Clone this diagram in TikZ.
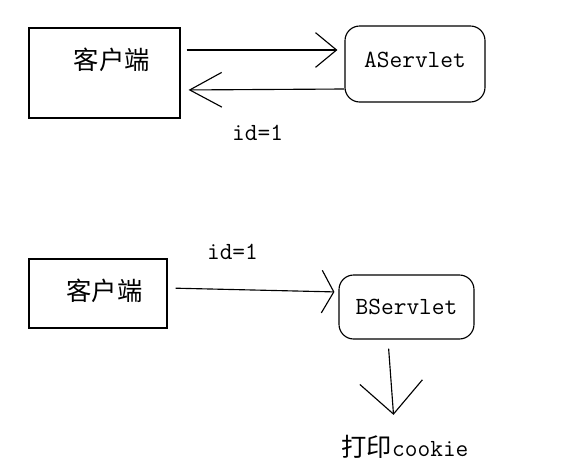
\documentclass[tikz,border=0pt]{standalone}
\usepackage{fontspec}
\newfontfamily\cjk{Noto Sans CJK SC}
\usetikzlibrary{arrows.meta}

\begin{document}
\begin{tikzpicture}[x=0.75pt,y=-0.75pt,line width=0.85pt,
      client node/.style={rectangle,draw,inner sep=0pt},
      servlet node/.style={rectangle,draw,rounded corners=11pt,inner sep=0pt,
        font=\ttfamily\fontsize{18.5}{20}\selectfont},
      cn text/.style={inner sep=0pt,font=\cjk\fontsize{19}{22}\selectfont},
      id text/.style={inner sep=0pt,font=\ttfamily\fontsize{18.5}{20}\selectfont},
      barb tip/.style 2 args={-{Straight Barb[length=#1,width=#2]}}]
    \useasboundingbox (0,0) rectangle (574,472);
    % first request
    \node[client node, minimum width=113.25pt, minimum height=67.5pt,
      label={[cn text, name=cn1, xshift=5.6pt, yshift=9.75pt]center:客户端}] (client1) at (104.5,73) {};
    \node[servlet node, minimum width=105pt, minimum height=57pt, text depth=6.75pt] (aservlet) at (415,64) {AServlet};
    % second request
    \node[client node, minimum width=103.5pt, minimum height=51.75pt,
      label={[cn text, name=cn2, xshift=4.9pt, yshift=1.9pt]center:客户端}] (client2) at (98,293.5) {};
    \node[servlet node, minimum width=101.25pt, minimum height=48pt] (bservlet) at (406.5,307) {BServlet};
    \node[id text] (print) at (405,447) {{\cjk\fontsize{19}{22}\selectfont 打印}cookie};
    \path
    ([yshift=17.25pt]client1.east) edge[barb tip={15.75pt}{26pt}, shorten <=4.5pt, shorten >=5.25pt] ([yshift=10.5pt]aservlet.west)
    ([yshift=-18.75pt]aservlet.west) edge[barb tip={24pt}{26pt}, shorten >=6pt]
      node[id text, pos=0.53, below=26pt] (id1) {id=1} ([yshift=-12.75pt]client1.east)
    ([yshift=4.125pt]client2.east) edge[barb tip={9pt}{32pt}, shorten <=6pt, shorten >=3pt]
      node[id text, pos=0.38, above=22pt] (id2) {id=1} ([yshift=11.25pt]bservlet.west)
    ([xshift=-13.9pt]bservlet.south) edge[barb tip={24pt}{47pt}, shorten <=6.75pt, shorten >=15pt] ([xshift=-7.5pt]print.north)
    ;
  \end{tikzpicture}
\end{document}
